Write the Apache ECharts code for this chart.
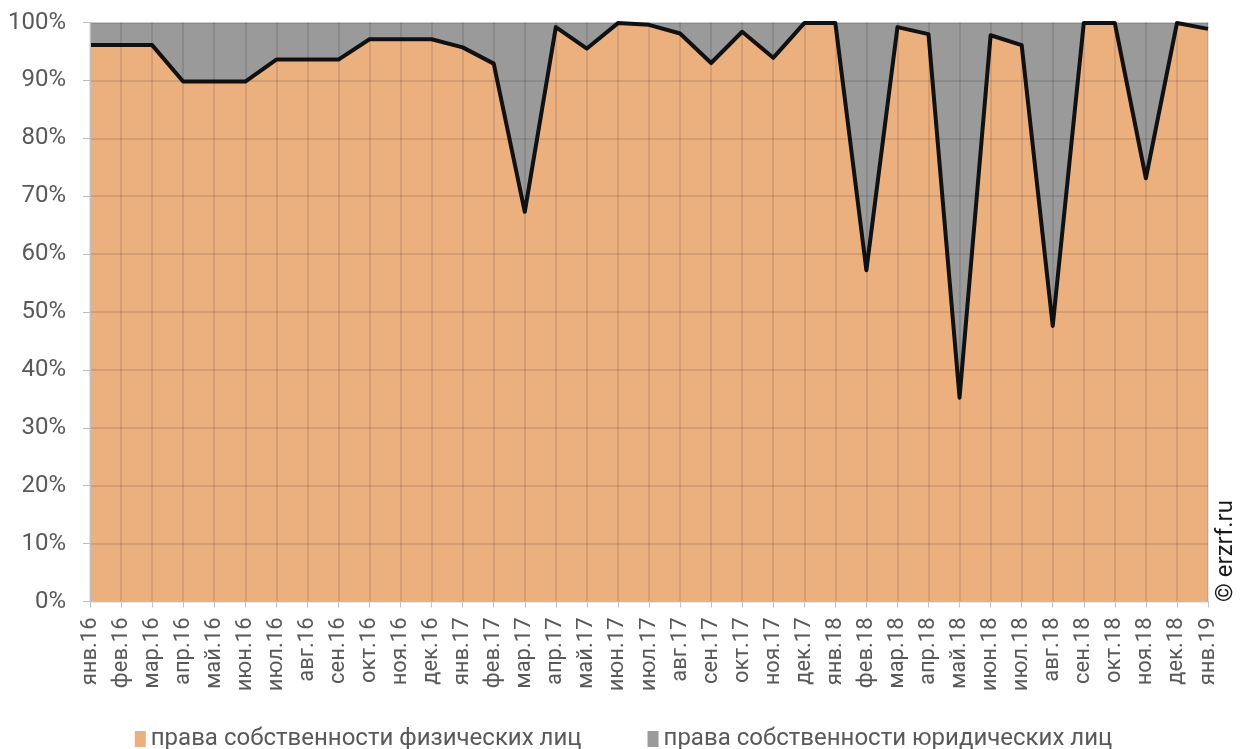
<!DOCTYPE html>
<html>
<head>
<meta charset="utf-8">
<script src="https://cdn.jsdelivr.net/npm/echarts@6/dist/echarts.min.js"></script>
<style>
  html, body { margin: 0; padding: 0; background: #ffffff; }
  #chart { width: 1247px; height: 749px; }
</style>
</head>
<body>
<div id="chart"></div>
<script>
// Monthly periods, Jan 2016 – Jan 2019
const months = [
  'янв.16','фев.16','мар.16','апр.16','май.16','июн.16','июл.16','авг.16','сен.16','окт.16','ноя.16','дек.16',
  'янв.17','фев.17','мар.17','апр.17','май.17','июн.17','июл.17','авг.17','сен.17','окт.17','ноя.17','дек.17',
  'янв.18','фев.18','мар.18','апр.18','май.18','июн.18','июл.18','авг.18','сен.18','окт.18','ноя.18','дек.18',
  'янв.19'
];

// Share of ownership rights of individuals, %
const individuals = [
  96.1, 96.1, 96.1, 89.8, 89.8, 89.8, 93.6, 93.6, 93.6, 97.1, 97.1, 97.1,
  95.7, 92.9, 67.3, 99.2, 95.5, 99.9, 99.6, 98.1, 93.0, 98.4, 93.9, 99.9,
  99.9, 57.2, 99.2, 98.0, 35.2, 97.8, 96.1, 47.6, 99.9, 99.9, 73.1, 99.9,
  98.9
];

// Share of ownership rights of legal entities, %
const legalEntities = [
  3.9, 3.9, 3.9, 10.2, 10.2, 10.2, 6.4, 6.4, 6.4, 2.9, 2.9, 2.9,
  4.3, 7.1, 32.7, 0.8, 4.5, 0.1, 0.4, 1.9, 7.0, 1.6, 6.1, 0.1,
  0.1, 42.8, 0.8, 2.0, 64.8, 2.2, 3.9, 52.4, 0.1, 0.1, 26.9, 0.1,
  1.1
];

const seriesNames = ['права собственности физических лиц', 'права собственности юридических лиц'];

const labelColor = '#595959';
const fontFamily = 'Roboto, "Noto Sans", sans-serif';

const chart = echarts.init(document.getElementById('chart'), null, { renderer: 'canvas' });

chart.setOption({
  animation: false,
  backgroundColor: '#ffffff',
  grid: { left: 90, right: 39, top: 22.5, bottom: 147.5, containLabel: false },
  legend: {
    top: 722,
    left: 'center',
    itemWidth: 11,
    itemHeight: 16,
    itemGap: 66,
    icon: 'rect',
    textStyle: { color: labelColor, fontSize: 24, fontFamily: fontFamily },
    data: seriesNames
  },
  xAxis: {
    type: 'category',
    data: months,
    boundaryGap: false,
    z: 5,
    axisLine: { show: true, lineStyle: { color: '#bfbfbf', width: 1 } },
    axisTick: { show: true, alignWithLabel: true, length: 6, lineStyle: { color: '#bfbfbf' } },
    axisLabel: {
      rotate: 90,
      interval: 0,
      margin: 16,
      color: labelColor,
      fontSize: 22,
      fontFamily: fontFamily
    },
    splitLine: { show: true, lineStyle: { color: 'rgba(0,0,0,0.1)', width: 2 } }
  },
  yAxis: {
    type: 'value',
    min: 0,
    max: 100,
    interval: 10,
    z: 5,
    axisLine: { show: true, lineStyle: { color: '#bfbfbf', width: 1 } },
    axisTick: { show: true, length: 7, lineStyle: { color: '#bfbfbf' } },
    axisLabel: {
      margin: 24,
      color: labelColor,
      fontSize: 24,
      fontFamily: fontFamily,
      formatter: '{value}%'
    },
    splitLine: { show: true, lineStyle: { color: 'rgba(0,0,0,0.1)', width: 2 } }
  },
  series: [
    {
      name: seriesNames[0],
      type: 'line',
      stack: 'share',
      data: individuals,
      z: 3,
      showSymbol: false,
      symbol: 'none',
      itemStyle: { color: '#ecb07f' },
      lineStyle: { color: '#111111', width: 4, join: 'round', cap: 'butt' },
      areaStyle: { color: '#ecb07f', opacity: 1 }
    },
    {
      name: seriesNames[1],
      type: 'line',
      stack: 'share',
      data: legalEntities,
      z: 2,
      showSymbol: false,
      symbol: 'none',
      itemStyle: { color: '#9a9a9a' },
      lineStyle: { width: 0, color: '#9a9a9a' },
      areaStyle: { color: '#9a9a9a', opacity: 1 }
    }
  ],
  graphic: [
    {
      type: 'text',
      x: 1226,
      y: 551,
      rotation: Math.PI / 2,
      style: {
        text: '© erzrf.ru',
        fill: '#1a1a1a',
        font: '24px ' + fontFamily,
        textAlign: 'center',
        textVerticalAlign: 'middle'
      }
    }
  ]
});
</script>
</body>
</html>
